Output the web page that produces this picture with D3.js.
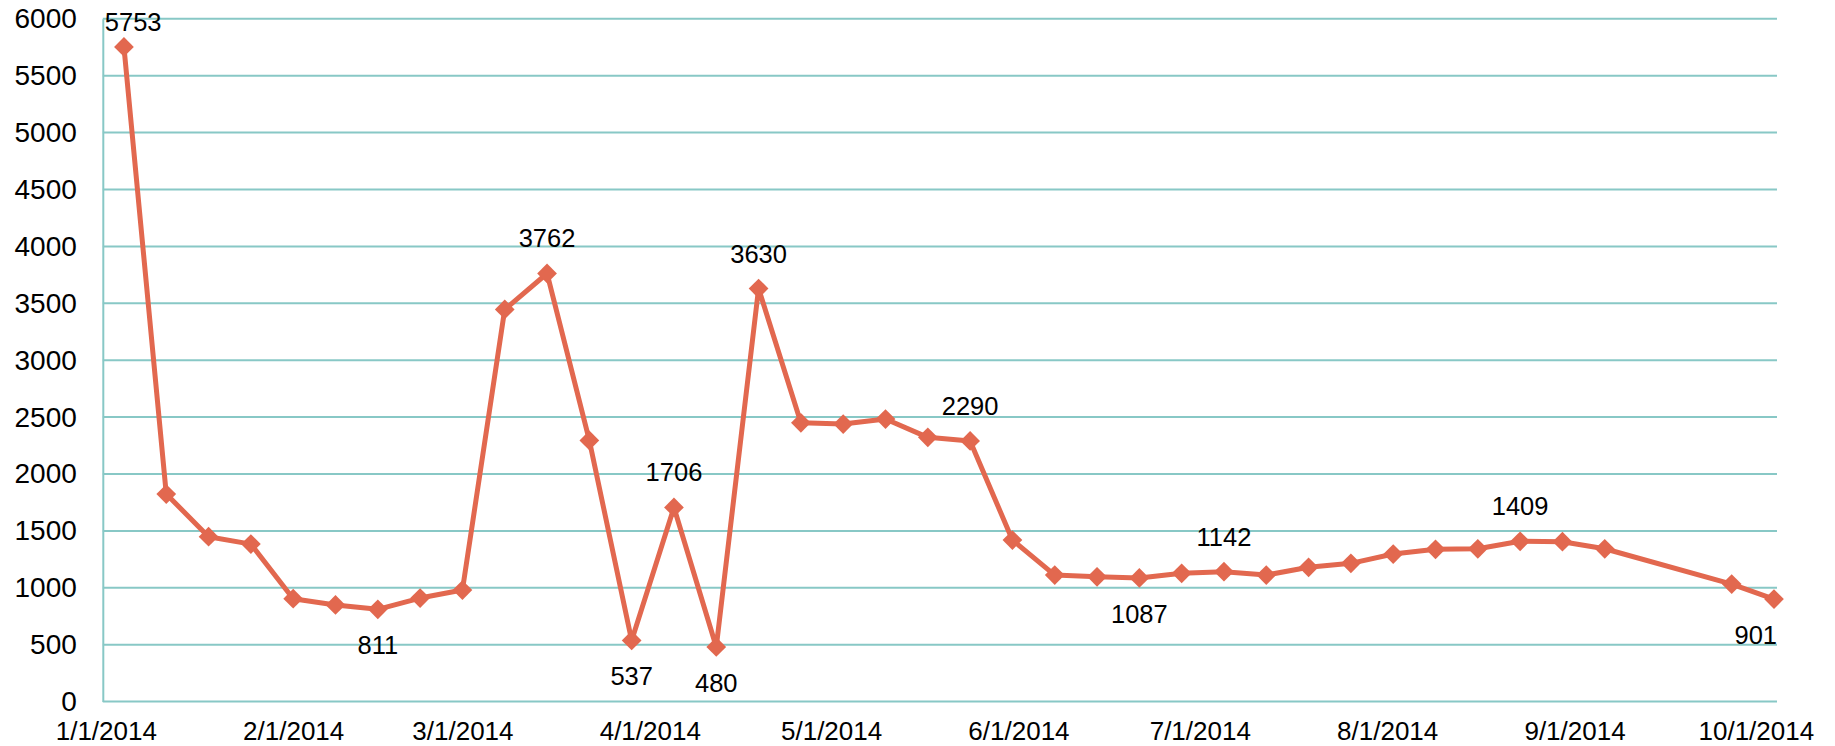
<!DOCTYPE html>
<html>
<head>
<meta charset="utf-8">
<script src="https://cdn.jsdelivr.net/npm/d3@7"></script>
<style>
  html, body { margin: 0; padding: 0; background: #fff; }
  svg { display: block; font-family: "Liberation Sans", Arial, sans-serif; }
</style>
</head>
<body>
<svg id="chart"></svg>
<script>
const width = 1835;
const height = 746;

// weekly dates (two weeks in September are missing)
const dates = [
  "2014-01-04", "2014-01-11", "2014-01-18", "2014-01-25",
  "2014-02-01", "2014-02-08", "2014-02-15", "2014-02-22",
  "2014-03-01", "2014-03-08", "2014-03-15", "2014-03-22", "2014-03-29",
  "2014-04-05", "2014-04-12", "2014-04-19", "2014-04-26",
  "2014-05-03", "2014-05-10", "2014-05-17", "2014-05-24", "2014-05-31",
  "2014-06-07", "2014-06-14", "2014-06-21", "2014-06-28",
  "2014-07-05", "2014-07-12", "2014-07-19", "2014-07-26",
  "2014-08-02", "2014-08-09", "2014-08-16", "2014-08-23", "2014-08-30",
  "2014-09-06", "2014-09-27", "2014-10-04"
];

const values = [
  5753, 1824, 1449, 1384,
  904, 849, 811, 910,
  980, 3446, 3762, 2295, 537,
  1706, 480, 3630, 2450,
  2439, 2483, 2322, 2290, 1420,
  1112, 1097, 1087, 1127,
  1142, 1112, 1180, 1215,
  1297, 1338, 1343, 1409, 1405,
  1343, 1033, 901
];

// which points get a value label, and on which side
const labelled = {
  "2014-01-04": "above", "2014-02-15": "below", "2014-03-15": "above",
  "2014-03-29": "below", "2014-04-05": "above", "2014-04-12": "below",
  "2014-04-19": "above", "2014-05-24": "above", "2014-06-21": "below",
  "2014-07-05": "above", "2014-08-23": "above", "2014-10-04": "below"
};

const monthTicks = [
  "2014-01-01", "2014-02-01", "2014-03-01", "2014-04-01", "2014-05-01",
  "2014-06-01", "2014-07-01", "2014-08-01", "2014-09-01", "2014-10-01"
];

const yTicks = [0, 500, 1000, 1500, 2000, 2500, 3000, 3500, 4000, 4500, 5000, 5500, 6000];

const parse = d3.utcParse("%Y-%m-%d");
const data = dates.map((d, i) => ({ date: parse(d), key: d, value: values[i] }));

const margin = { top: 18.8, right: 58, bottom: 44.4, left: 102.8 };
const lineColor = "#E2684F";
const gridColor = "#88C8C6";

const svg = d3.select("#chart")
  .attr("width", width)
  .attr("height", height);

// half a day of padding on each side, like the date axis of the source
const x = d3.scaleUtc()
  .domain([new Date(Date.UTC(2013, 11, 31, 12)), new Date(Date.UTC(2014, 9, 4, 12))])
  .range([margin.left, width - margin.right]);

const y = d3.scaleLinear()
  .domain([0, 6000])
  .range([height - margin.bottom, margin.top]);

// horizontal gridlines
svg.append("g")
  .attr("class", "grid")
  .selectAll("line")
  .data(yTicks)
  .join("line")
    .attr("x1", margin.left)
    .attr("x2", width - margin.right)
    .attr("y1", d => y(d))
    .attr("y2", d => y(d))
    .attr("stroke", gridColor)
    .attr("stroke-width", 2);

// y axis
const yAxis = svg.append("g")
  .attr("transform", `translate(${margin.left},0)`)
  .call(d3.axisLeft(y).tickValues(yTicks).tickSize(0).tickPadding(26).tickFormat(d3.format("d")));
yAxis.select(".domain")
  .attr("stroke", gridColor)
  .attr("stroke-width", 2);
yAxis.selectAll("text")
  .style("font-size", "28px")
  .style("font-family", "'Liberation Sans', Arial, sans-serif")
  .attr("fill", "#000");

// x axis (labels only)
const xAxis = svg.append("g")
  .attr("transform", `translate(0,${y(0)})`)
  .call(d3.axisBottom(x)
    .tickValues(monthTicks.map(parse))
    .tickSize(0)
    .tickPadding(0)
    .tickFormat(d3.utcFormat("%-m/%-d/%Y")));
xAxis.select(".domain").remove();
xAxis.selectAll("text")
  .attr("y", 38)
  .attr("dy", 0)
  .style("font-size", "26px")
  .style("font-family", "'Liberation Sans', Arial, sans-serif")
  .attr("fill", "#000");

// the line
const line = d3.line()
  .x(d => x(d.date))
  .y(d => y(d.value));

svg.append("path")
  .datum(data)
  .attr("fill", "none")
  .attr("stroke", lineColor)
  .attr("stroke-width", 5)
  .attr("stroke-linejoin", "round")
  .attr("d", line);

// diamond markers
const diamond = d3.symbol(d3.symbolSquare, 195);
svg.append("g")
  .selectAll("path")
  .data(data)
  .join("path")
    .attr("d", diamond)
    .attr("transform", d => `translate(${x(d.date)},${y(d.value)}) rotate(45)`)
    .attr("fill", lineColor);

// value labels, kept inside the plot area
const labels = svg.append("g")
  .style("font-size", "25.5px")
  .style("font-family", "'Liberation Sans', Arial, sans-serif")
  .attr("fill", "#000");

data.filter(d => labelled[d.key]).forEach(d => {
  const side = labelled[d.key];
  const by = Math.max(margin.top + 12, y(d.value) + (side === "above" ? -26 : 45));
  const t = labels.append("text")
    .attr("text-anchor", "middle")
    .attr("x", x(d.date))
    .attr("y", by)
    .text(d.value);
  const w = t.node().getComputedTextLength();
  let cx = x(d.date);
  const lo = margin.left + w / 2 + 2;
  const hi = width - margin.right - w / 2;
  cx = Math.max(lo, Math.min(hi, cx));
  t.attr("x", cx);
});
</script>
</body>
</html>
